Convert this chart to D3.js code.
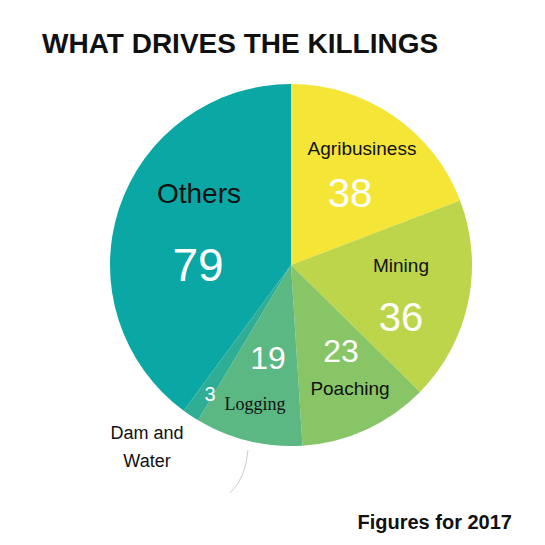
<!DOCTYPE html>
<html><head><meta charset="utf-8">
<script src="https://cdn.jsdelivr.net/npm/d3@7"></script>
<style>body{margin:0;background:#fff}</style>
</head><body>
<svg id="chart" width="545" height="545"></svg>
<script>
// datos de la grafica (2017)
const causes = ["Agribusiness", "Mining", "Poaching", "Logging", "Dam and Water", "Others"];
const killings = [38, 36, 23, 19, 3, 79];
const colores = ["#f4e536", "#bcd54a", "#88c566", "#5cb882", "#2fae95", "#0aa7a4"];

const svg = d3.select("#chart");
const cx = 291, cy = 265, radio = 181;

svg.append("text").attr("x", 42).attr("y", 53)
  .attr("font-family", "Liberation Sans, Arial").attr("font-weight", "bold")
  .attr("font-size", 28).attr("fill", "#111").text("WHAT DRIVES THE KILLINGS");

const pie = d3.pie().sort(null).value(d => d.v);
const arcos = pie(causes.map((c, i) => ({c: c, v: killings[i], col: colores[i]})));
const arc = d3.arc().innerRadius(0).outerRadius(radio);
const g = svg.append("g").attr("transform", `translate(${cx},${cy})`);
g.selectAll("path").data(arcos).enter().append("path")
  .attr("d", arc).attr("fill", d => d.data.col);

// posicion de etiquetas respecto al centro
const etiquetas = {
  "Agribusiness": {name: [71, -110, 19, "#111"], num: [59, -58, 40, "#fff"]},
  "Mining": {name: [110, 7, 19, "#111"], num: [110, 66, 40, "#fff"]},
  "Poaching": {name: [59, 130, 19, "#111"], num: [50, 97, 32, "#fff"]},
  "Logging": {name: [-36, 145, 18, "#111", "Liberation Serif, serif"], num: [-23, 104, 32, "#fff"]},
  "Dam and Water": {num: [-81, 136, 20, "#fff"]},
  "Others": {name: [-92, -62, 28, "#111"], num: [-93, 16, 46, "#fff"]}
};
arcos.forEach(d => {
  const e = etiquetas[d.data.c];
  if (e.name) g.append("text").attr("x", e.name[0]).attr("y", e.name[1])
    .attr("text-anchor", "middle").attr("font-size", e.name[2]).attr("fill", e.name[3])
    .attr("font-family", e.name[4] || "Liberation Sans, Arial").text(d.data.c);
  g.append("text").attr("x", e.num[0]).attr("y", e.num[1])
    .attr("text-anchor", "middle").attr("font-size", e.num[2]).attr("fill", e.num[3])
    .attr("font-family", "Liberation Sans, Arial").text(d.data.v);
});

// etiqueta externa Dam and Water
svg.append("text").attr("x", 147).attr("y", 439).attr("text-anchor", "middle")
  .attr("font-family", "Liberation Sans, Arial").attr("font-size", 18).attr("fill", "#111").text("Dam and");
svg.append("text").attr("x", 147).attr("y", 467).attr("text-anchor", "middle")
  .attr("font-family", "Liberation Sans, Arial").attr("font-size", 18).attr("fill", "#111").text("Water");
svg.append("path").attr("d", "M248,450 Q246,478 230,493")
  .attr("fill", "none").attr("stroke", "#ccc").attr("stroke-width", 1);

svg.append("text").attr("x", 512).attr("y", 529).attr("text-anchor", "end")
  .attr("font-family", "Liberation Sans, Arial").attr("font-weight", "bold")
  .attr("font-size", 20).attr("fill", "#111").text("Figures for 2017");
</script>
</body></html>
